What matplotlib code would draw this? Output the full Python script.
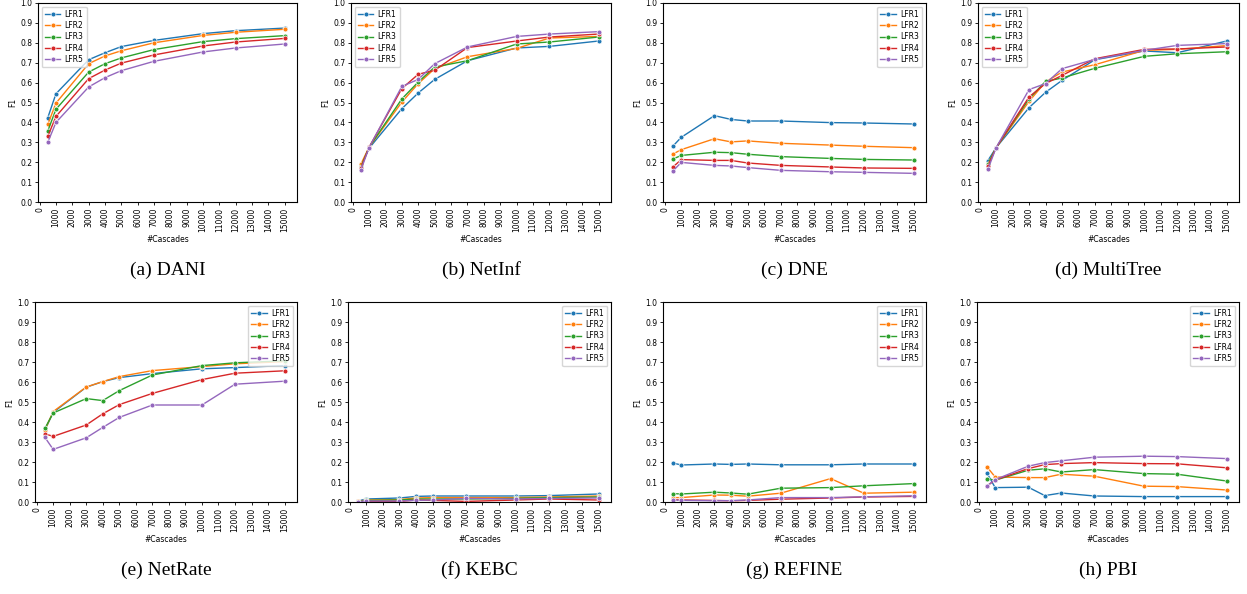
import matplotlib
matplotlib.use("Agg")
import matplotlib.pyplot as plt
from matplotlib.ticker import FormatStrFormatter

cascades = [500, 1000, 3000, 4000, 5000, 7000, 10000, 12000, 15000]
series_names = ["LFR1", "LFR2", "LFR3", "LFR4", "LFR5"]

dani = [
    [0.424, 0.544, 0.715, 0.750, 0.781, 0.812, 0.846, 0.861, 0.874],
    [0.390, 0.497, 0.695, 0.734, 0.760, 0.800, 0.837, 0.853, 0.868],
    [0.357, 0.466, 0.653, 0.695, 0.724, 0.766, 0.806, 0.821, 0.836],
    [0.330, 0.430, 0.620, 0.663, 0.698, 0.739, 0.784, 0.804, 0.822],
    [0.300, 0.400, 0.578, 0.625, 0.660, 0.707, 0.754, 0.774, 0.794],
]
netinf = [
    [0.180, 0.270, 0.469, 0.548, 0.616, 0.710, 0.774, 0.782, 0.809],
    [0.190, 0.275, 0.502, 0.595, 0.670, 0.730, 0.772, 0.824, 0.832],
    [0.175, 0.275, 0.518, 0.603, 0.678, 0.710, 0.794, 0.804, 0.829],
    [0.170, 0.275, 0.570, 0.642, 0.662, 0.776, 0.809, 0.829, 0.844],
    [0.160, 0.273, 0.581, 0.616, 0.695, 0.779, 0.832, 0.844, 0.856],
]
dne = [
    [0.281, 0.325, 0.434, 0.415, 0.407, 0.407, 0.399, 0.397, 0.392],
    [0.241, 0.263, 0.318, 0.302, 0.307, 0.295, 0.286, 0.280, 0.273],
    [0.216, 0.234, 0.250, 0.248, 0.240, 0.228, 0.219, 0.214, 0.211],
    [0.176, 0.213, 0.209, 0.209, 0.196, 0.184, 0.176, 0.171, 0.169],
    [0.156, 0.199, 0.184, 0.181, 0.173, 0.159, 0.152, 0.149, 0.144],
]
multitree = [
    [0.208, 0.273, 0.474, 0.551, 0.611, 0.715, 0.759, 0.750, 0.809],
    [0.190, 0.273, 0.506, 0.603, 0.653, 0.690, 0.762, 0.767, 0.786],
    [0.190, 0.273, 0.519, 0.606, 0.623, 0.672, 0.732, 0.745, 0.755],
    [0.180, 0.273, 0.528, 0.595, 0.636, 0.720, 0.767, 0.769, 0.779],
    [0.164, 0.273, 0.565, 0.595, 0.670, 0.717, 0.762, 0.787, 0.796],
]
netrate = [
    [0.360, 0.448, 0.574, 0.602, 0.622, 0.642, 0.666, 0.672, 0.682],
    [0.360, 0.452, 0.575, 0.602, 0.627, 0.657, 0.677, 0.691, 0.702],
    [0.368, 0.445, 0.517, 0.507, 0.557, 0.635, 0.682, 0.696, 0.706],
    [0.341, 0.328, 0.385, 0.441, 0.487, 0.543, 0.612, 0.644, 0.656],
    [0.323, 0.263, 0.321, 0.373, 0.423, 0.485, 0.485, 0.589, 0.604],
]
kebc = [
    [0.005, 0.015, 0.020, 0.028, 0.030, 0.030, 0.030, 0.032, 0.040],
    [0.003, 0.010, 0.012, 0.020, 0.022, 0.022, 0.022, 0.025, 0.030],
    [0.002, 0.008, 0.010, 0.015, 0.015, 0.015, 0.018, 0.022, 0.025],
    [0.001, 0.003, 0.003, 0.010, 0.008, 0.003, 0.010, 0.015, 0.010],
    [0.002, 0.005, 0.005, 0.008, 0.010, 0.018, 0.015, 0.018, 0.020],
]
refine = [
    [0.195, 0.185, 0.190, 0.188, 0.190, 0.186, 0.186, 0.190, 0.190],
    [0.022, 0.022, 0.035, 0.034, 0.029, 0.044, 0.117, 0.044, 0.049],
    [0.042, 0.040, 0.049, 0.045, 0.039, 0.069, 0.072, 0.081, 0.092],
    [0.012, 0.010, 0.008, 0.006, 0.008, 0.014, 0.020, 0.025, 0.028],
    [0.010, 0.008, 0.006, 0.007, 0.010, 0.022, 0.022, 0.026, 0.031],
]
pbi = [
    [0.145, 0.072, 0.074, 0.032, 0.045, 0.030, 0.027, 0.027, 0.027],
    [0.176, 0.125, 0.122, 0.122, 0.139, 0.129, 0.079, 0.077, 0.060],
    [0.117, 0.109, 0.159, 0.166, 0.150, 0.162, 0.142, 0.139, 0.105],
    [0.080, 0.110, 0.167, 0.187, 0.192, 0.197, 0.192, 0.191, 0.171],
    [0.080, 0.112, 0.179, 0.197, 0.206, 0.224, 0.229, 0.227, 0.217],
]

panels = [
    ("(a) DANI", dani, "upper left"),
    ("(b) NetInf", netinf, "upper left"),
    ("(c) DNE", dne, "upper right"),
    ("(d) MultiTree", multitree, "upper left"),
    ("(e) NetRate", netrate, "upper right"),
    ("(f) KEBC", kebc, "upper right"),
    ("(g) REFINE", refine, "upper right"),
    ("(h) PBI", pbi, "upper right"),
]

# axes boxes in pixels: left, top, right, bottom
boxes = [
    (38, 3, 297, 202), (351, 3, 611, 202), (663, 3, 926, 202), (978, 3, 1239, 202),
    (35, 302, 297, 502), (348, 302, 611, 502), (663, 302, 926, 502), (977, 302, 1239, 502),
]

W, H = 1247, 594
colors = ["#1f77b4", "#ff7f0e", "#2ca02c", "#d62728", "#9467bd"]
fs = 5.5

fig = plt.figure(figsize=(W / 100, H / 100), dpi=100)

for (caption, data, loc), (l, t, r, b) in zip(panels, boxes):
    ax = fig.add_axes([l / W, 1 - b / H, (r - l) / W, (b - t) / H])
    for name, vals, c in zip(series_names, data, colors):
        ax.plot(cascades, vals, color=c, marker="o", ms=3.5, mec="white", mew=0.5,
                lw=1, label=name)
    ax.set_ylim(0, 1.0)
    ax.set_xlim(-100, 15750)
    ax.set_yticks([i / 10 for i in range(11)])
    ax.yaxis.set_major_formatter(FormatStrFormatter("%.1f"))
    ax.set_xticks(range(0, 15001, 1000))
    ax.tick_params(axis="x", labelrotation=90, labelsize=fs, length=2.5, width=0.6, pad=1.5)
    ax.tick_params(axis="y", labelsize=fs, length=2.5, width=0.6, pad=1.5)
    for s in ax.spines.values():
        s.set_linewidth(0.8)
    ax.set_xlabel("#Cascades", fontsize=fs, labelpad=2)
    ax.set_ylabel("F1", fontsize=fs, labelpad=2)
    ax.legend(loc=loc, fontsize=fs, handlelength=2.0, borderpad=0.4, labelspacing=0.3,
              handletextpad=0.6)
    fig.text((l + r) / 2 / W, 1 - (b + 68) / H, caption, ha="center", va="center",
             fontsize=14, family="Liberation Serif")

fig.savefig("out.png", dpi=100)
